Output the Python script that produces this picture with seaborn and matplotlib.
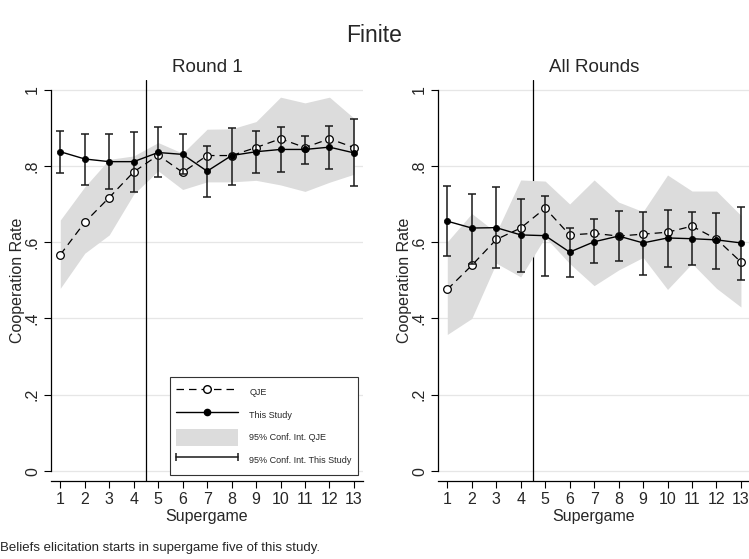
import numpy as np
import pandas as pd
import matplotlib
matplotlib.use("Agg")
import matplotlib.pyplot as plt
import seaborn as sns
from matplotlib.lines import Line2D
from matplotlib.patches import Patch
from matplotlib.legend_handler import HandlerLine2D

# ---------------- data ----------------
supergame = list(range(1, 14))
xtick_labels = [str(s) for s in supergame]
ytick_values = [0, 0.2, 0.4, 0.6, 0.8, 1.0]
ytick_labels = ["0", ".2", ".4", ".6", ".8", "1"]

# Round 1
qje_r1 = [0.567, 0.652, 0.717, 0.784, 0.828, 0.783, 0.827, 0.827, 0.848, 0.871, 0.848, 0.871, 0.848]
qje_r1_lo = [0.479, 0.571, 0.619, 0.726, 0.787, 0.738, 0.758, 0.758, 0.762, 0.750, 0.733, 0.757, 0.778]
qje_r1_hi = [0.658, 0.745, 0.817, 0.826, 0.861, 0.833, 0.896, 0.897, 0.916, 0.980, 0.965, 0.980, 0.925]
study_r1 = [0.837, 0.818, 0.811, 0.811, 0.835, 0.830, 0.786, 0.827, 0.837, 0.843, 0.843, 0.849, 0.834]
study_r1_lo = [0.782, 0.751, 0.739, 0.732, 0.771, 0.779, 0.718, 0.750, 0.782, 0.783, 0.806, 0.793, 0.748]
study_r1_hi = [0.891, 0.883, 0.883, 0.889, 0.901, 0.883, 0.853, 0.898, 0.891, 0.902, 0.878, 0.904, 0.922]

# All rounds
qje_all = [0.476, 0.539, 0.607, 0.637, 0.689, 0.619, 0.623, 0.616, 0.621, 0.626, 0.642, 0.608, 0.548]
qje_all_lo = [0.358, 0.400, 0.545, 0.509, 0.613, 0.544, 0.486, 0.527, 0.560, 0.476, 0.544, 0.479, 0.430]
qje_all_hi = [0.601, 0.675, 0.625, 0.763, 0.760, 0.700, 0.763, 0.705, 0.680, 0.776, 0.734, 0.734, 0.670]
study_all = [0.655, 0.637, 0.638, 0.619, 0.617, 0.574, 0.601, 0.616, 0.598, 0.611, 0.609, 0.606, 0.598]
study_all_lo = [0.565, 0.542, 0.533, 0.523, 0.512, 0.509, 0.545, 0.550, 0.515, 0.535, 0.539, 0.530, 0.501]
study_all_hi = [0.746, 0.726, 0.744, 0.714, 0.722, 0.636, 0.660, 0.682, 0.679, 0.684, 0.679, 0.677, 0.693]

# ---------------- style ----------------
sns.set_style("white")
plt.rcParams["font.family"] = ["Liberation Sans", "DejaVu Sans"]

W, H = 749, 559
fig = plt.figure(figsize=(W / 100, H / 100), dpi=100)


def add_ax(x0, y0, x1, y1):
    return fig.add_axes([x0 / W, 1 - y1 / H, (x1 - x0) / W, (y1 - y0) / H])


axL = add_ax(51, 80, 363, 481)
axR = add_ax(438, 80, 750, 481)

BAND = "#dcdcdc"


def panel(ax, title, qje, qlo, qhi, st, slo, shi, band_on_top):
    st = np.asarray(st)
    slo = np.asarray(slo)
    shi = np.asarray(shi)
    for yv in ytick_values:
        ax.axhline(yv, color="#e6e6e6", lw=0.9, zorder=0)
    ax.fill_between(supergame, qlo, qhi, color=BAND, lw=0,
                    zorder=2.5 if band_on_top else 1)
    ax.axvline(4.5, color="black", lw=0.9, zorder=2)

    df_q = pd.DataFrame({"Supergame": supergame, "rate": qje})
    sns.lineplot(data=df_q, x="Supergame", y="rate", ax=ax, errorbar=None,
                 color="black", lw=0.9, linestyle=(0, (6, 4)),
                 marker="o", markersize=5.5, markerfacecolor="white",
                 markeredgecolor="black", markeredgewidth=0.9,
                 legend=False, zorder=3)

    ax.errorbar(supergame, st, yerr=[st - slo, shi - st], fmt="none",
                ecolor="#1a1a1a", elinewidth=1.1, capsize=2.8, capthick=1.1,
                zorder=4)
    df_s = pd.DataFrame({"Supergame": supergame, "rate": st})
    sns.lineplot(data=df_s, x="Supergame", y="rate", ax=ax, errorbar=None,
                 color="black", lw=1.0, marker="o", markersize=4.5,
                 markerfacecolor="black", markeredgecolor="black",
                 markeredgewidth=0.5, legend=False, zorder=5)

    ax.set_xlim(0.62, 13.37)
    ax.set_ylim(-0.026, 1.025)
    ax.set_xticks(supergame)
    ax.set_xticklabels(xtick_labels, fontsize=11.5)
    ax.set_yticks(ytick_values)
    ax.set_yticklabels(ytick_labels, fontsize=11.5, rotation=90, va="center")
    ax.set_xlabel("Supergame", fontsize=11.5, labelpad=1)
    ax.set_ylabel("Cooperation Rate", fontsize=11.5, labelpad=0)
    ax.set_title(title, fontsize=13.5, pad=6)
    for s in ["top", "right"]:
        ax.spines[s].set_visible(False)
    ax.spines["left"].set_bounds(0, 1)
    for s in ["left", "bottom"]:
        ax.spines[s].set_color("black")
        ax.spines[s].set_linewidth(0.9)
    ax.tick_params(direction="out", length=5, width=0.8, color="black",
                   pad=3, left=True, bottom=True)
    ax.set_facecolor("white")


panel(axL, "Round 1", qje_r1, qje_r1_lo, qje_r1_hi,
      study_r1, study_r1_lo, study_r1_hi, band_on_top=False)
panel(axR, "All Rounds", qje_all, qje_all_lo, qje_all_hi,
      study_all, study_all_lo, study_all_hi, band_on_top=True)

# legend
h_qje = Line2D([], [], color="black", lw=0.9, linestyle=(0, (6, 4)), marker="o",
               markersize=5.5, markerfacecolor="white", markeredgecolor="black")
h_st = Line2D([], [], color="black", lw=1.0, marker="o", markersize=4.5,
              markerfacecolor="black", markeredgecolor="black")
h_band = Patch(facecolor=BAND, edgecolor="none")
h_ci = Line2D([], [], color="#1a1a1a", lw=1.1, marker="|", markersize=6,
              markeredgewidth=1.1)
leg = axL.legend([h_qje, h_st, h_band, h_ci],
                 ["QJE", "This Study", "95% Conf. Int. QJE", "95% Conf. Int. This Study"],
                 handler_map={h_ci: HandlerLine2D(numpoints=2, marker_pad=0)},
                 loc="lower right", bbox_to_anchor=(0.984, 0.015),
                 borderaxespad=0,
                 fontsize=6.5, numpoints=1, handlelength=6.9, handleheight=2.55,
                 handletextpad=1.2, labelspacing=0.59, borderpad=0.72,
                 frameon=True, fancybox=False, framealpha=1, edgecolor="#333333")
leg.get_frame().set_linewidth(0.8)
leg.set_zorder(10)

fig.text(0.5, 1 - 42 / H, "Finite", fontsize=16.5, ha="center", va="baseline")
fig.text(0.5 / W, 1 - 548 / H, "Beliefs elicitation starts in supergame five of this study.",
         fontsize=9.5, ha="left", va="center")

fig.savefig("out.png", dpi=100)
